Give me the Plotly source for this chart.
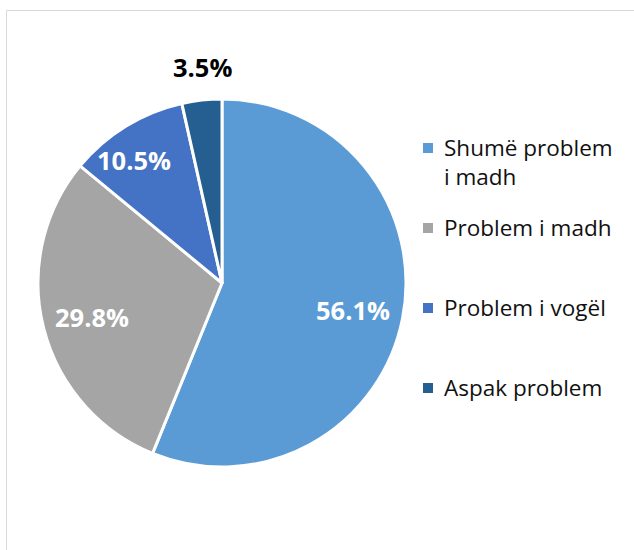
import plotly.graph_objects as go

# ---- data ----
categories = ["Shumë problem i madh", "Problem i madh", "Problem i vogël", "Aspak problem"]
values = [56.1, 29.8, 10.5, 3.5]
legend_text = ["Shumë problem<br>i madh", "Problem i madh", "Problem i vogël", "Aspak problem"]

# ---- style ----
colors = ["#5B9BD5", "#A5A5A5", "#4472C4", "#255E91"]
label_colors = ["white", "white", "white", "black"]
W, H = 634, 550
label_px = [(353, 310), (92, 317), (134, 160), (202, 67)]   # label centres (px)
legend_px_y = [148, 228, 308, 388]                           # legend square centres (px)
legend_sq_x = 428
legend_txt_x = 442
FONT = "Open Sans"

def px(x, y):
    return x / W, 1 - y / H

cx, cy, r = 222, 283, 184

fig = go.Figure(go.Pie(
    labels=categories,
    values=values,
    sort=False,
    direction="clockwise",
    rotation=0,
    marker=dict(colors=colors, line=dict(color="white", width=3)),
    textinfo="none",
    hoverinfo="label+value",
    showlegend=False,
    domain=dict(x=[(cx - r) / W, (cx + r) / W], y=[1 - (cy + r) / H, 1 - (cy - r) / H]),
))

annotations = []
for v, (lx, ly), c in zip(values, label_px, label_colors):
    x, y = px(lx, ly)
    annotations.append(dict(
        x=x, y=y, xref="paper", yref="paper", showarrow=False,
        text=f"<b>{v:.1f}%</b>", xanchor="center", yanchor="middle",
        font=dict(family=FONT, size=25.5, color=c),
    ))

shapes = [dict(type="rect", xref="paper", yref="paper",
               x0=6.5 / W, x1=1.02, y0=-0.02, y1=1 - 10.5 / H,
               line=dict(color="#D9D9D9", width=1), fillcolor="rgba(0,0,0,0)", layer="below")]

for t, c, ly in zip(legend_text, colors, legend_px_y):
    x0, y0 = px(legend_sq_x - 5, ly - 5)
    x1, y1 = px(legend_sq_x + 5, ly + 5)
    shapes.append(dict(type="rect", xref="paper", yref="paper",
                       x0=x0, x1=x1, y0=y1, y1=y0, fillcolor=c, line=dict(width=0)))
    tx, ty = px(legend_txt_x, ly - 18)
    annotations.append(dict(
        x=tx, y=ty, xref="paper", yref="paper", showarrow=False,
        text=t, xanchor="left", yanchor="top", align="left",
        font=dict(family=FONT, size=22.5, color="#111111"),
    ))

fig.update_layout(
    width=W, height=H,
    margin=dict(l=0, r=0, t=0, b=0),
    paper_bgcolor="white",
    plot_bgcolor="white",
    annotations=annotations,
    shapes=shapes,
)

fig.write_html("out.html", config={"displayModeBar": False},
               post_script="document.body.style.margin='0';document.body.style.overflow='hidden';")
